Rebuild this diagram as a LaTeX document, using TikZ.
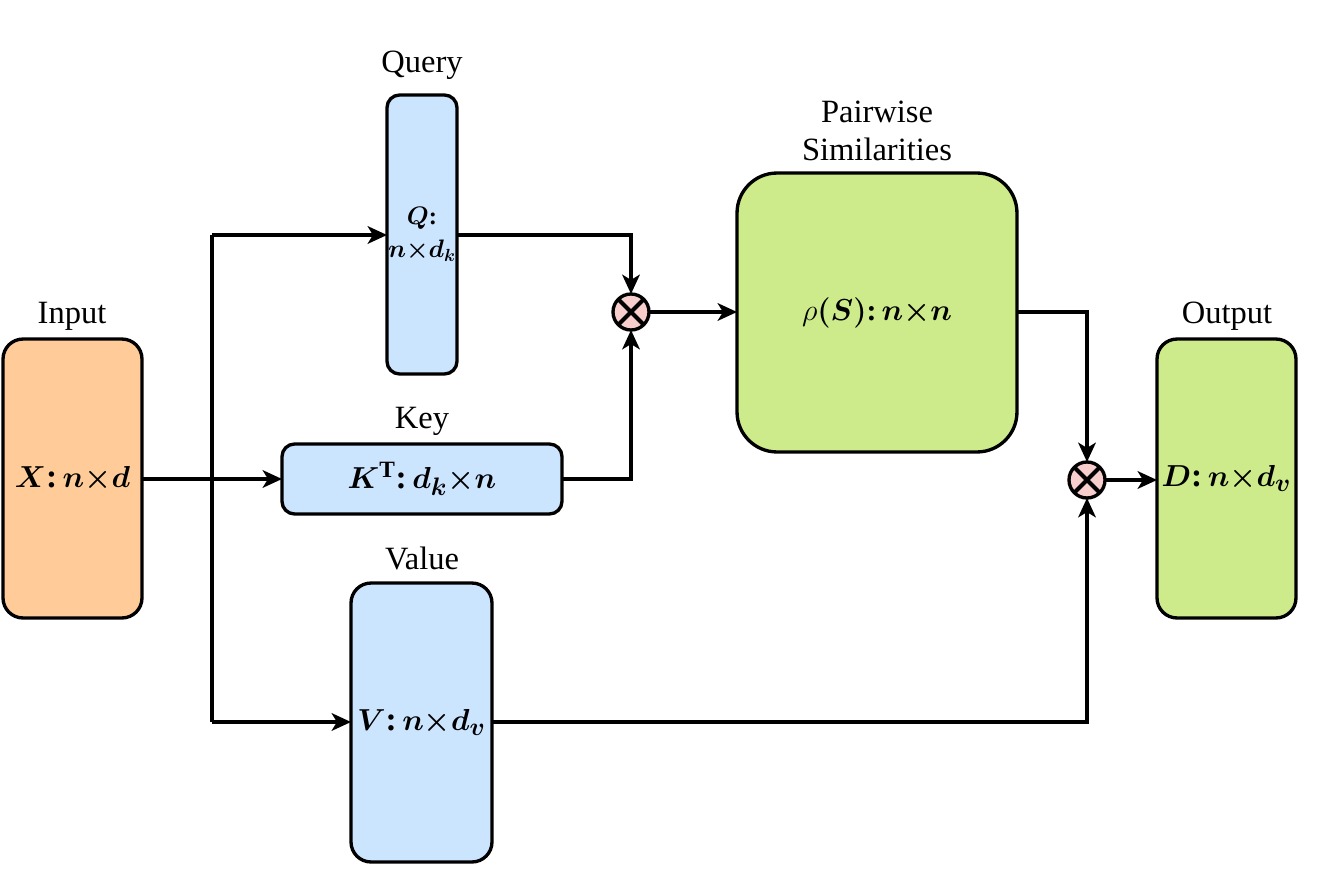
\documentclass[tikz,border=0pt]{standalone}
\usepackage{fontspec}
\setmainfont{Liberation Serif}
\usepackage{amsmath}
\usetikzlibrary{arrows.meta}
\definecolor{cblue}{HTML}{CCE5FF}
\definecolor{cgreen}{HTML}{CDEB8B}
\definecolor{corange}{HTML}{FFCC99}
\definecolor{cpink}{HTML}{F8CECC}
\newcommand{\tms}{{\times}}
\newcommand{\bc}{\textbf{:}\,}
\tikzset{
  box/.style={draw=black, line width=1.9pt, rounded corners=0.4cm, inner sep=0pt, outer sep=0pt, font=\fontsize{19}{22}\selectfont\boldmath, align=center},
  lbl/.style={font=\fontsize{18.5}{22}\selectfont, align=center, inner sep=0pt},
  mult/.style={circle, draw=black, line width=1.9pt, fill=cpink, minimum size=0.72cm, inner sep=0pt, outer sep=0pt},
  conn/.style={line width=1.9pt, -{Stealth[length=11pt,width=10pt,inset=3pt]}},
  plain/.style={line width=1.9pt},
}
\begin{document}
\begin{tikzpicture}[x=0.02cm,y=-0.02cm]
\useasboundingbox (0,0) rectangle (1319,882);
% boxes
\node[box, fill=corange, minimum width=2.78cm, minimum height=5.58cm] (X) at (72.5,478.5) {$X$\bc$n\tms d$};
\node[box, fill=cblue, minimum width=1.4cm, minimum height=5.58cm, rounded corners=0.25cm, font=\fontsize{14}{19}\selectfont\boldmath] (Q) at (422,234.5) {$Q$\textbf{:}\\$n\tms d_k$};
\node[box, fill=cblue, minimum width=5.6cm, minimum height=1.4cm, rounded corners=0.25cm] (K) at (422,479) {$K^{\mathrm{T}}$\bc$d_k\tms n$};
\node[box, fill=cblue, minimum width=2.82cm, minimum height=5.58cm] (V) at (421.5,722.5) {$V$\bc$n\tms d_v$};
\node[box, fill=cgreen, minimum width=5.6cm, minimum height=5.58cm, rounded corners=0.8cm, font=\fontsize{17}{20}\selectfont\boldmath] (S) at (877,312.5) {{\unboldmath$\rho$}$(S)$\bc$n\tms n$};
\node[box, fill=cgreen, minimum width=2.78cm, minimum height=5.58cm] (D) at (1226.5,478.5) {$D$\bc$n\tms d_v$};
% labels
\node[lbl] (lX) at (72,316) {Input};
\node[lbl] (lQ) at (422,65) {Query};
\node[lbl] (lK) at (422,421) {Key};
\node[lbl] (lV) at (422,558) {Value};
\node[lbl] (lS) at (877,131) {Pairwise\\Similarities};
\node[lbl] (lD) at (1227,316) {Output};
% multipliers
\node[mult] (m1) at (631,312) {};
\draw[line width=2.3pt] (m1.north east) -- (m1.south west) (m1.north west) -- (m1.south east);
\node[mult] (m2) at (1087,480) {};
\draw[line width=2.3pt] (m2.north east) -- (m2.south west) (m2.north west) -- (m2.south east);
% branch coordinates
\coordinate (bq) at (212,235);
\coordinate (bv) at (212,722);
% connectors
\draw[conn] (X.east |- K.west) -- (K.west);
\draw[plain] (bq) -- (bv);
\draw[conn] (bq) -- (Q.west |- bq);
\draw[conn] (bv) -- (V.west |- bv);
\draw[conn] (Q.east |- bq) -| (m1.north);
\draw[conn] (K.east) -| (m1.south);
\draw[conn] (m1.east) -- (S.west |- m1.east);
\draw[conn] (S.east |- m1.east) -| (m2.north);
\draw[conn] (V.east |- bv) -| (m2.south);
\draw[conn] (m2.east) -- (D.west |- m2.east);
\end{tikzpicture}
\end{document}
